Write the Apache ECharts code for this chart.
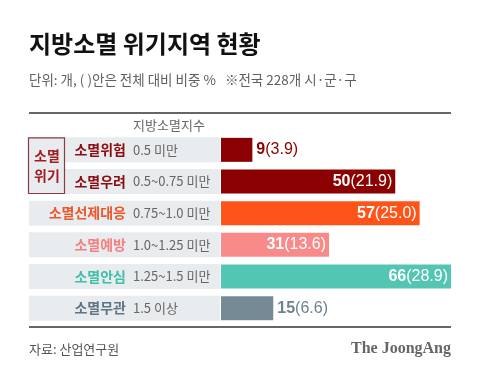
<!DOCTYPE html>
<html><head><meta charset="utf-8">
<script src="https://cdn.jsdelivr.net/npm/echarts@6/dist/echarts.min.js"></script>
<style>html,body{margin:0;padding:0;background:#fff}#c{width:480px;height:377px}</style>
</head><body><div id="c"></div>
<script>
const categories = ['소멸위험','소멸우려','소멸선제대응','소멸예방','소멸안심','소멸무관'];
const ranges = ['0.5 미만','0.5~0.75 미만','0.75~1.0 미만','1.0~1.25 미만','1.25~1.5 미만','1.5 이상'];
const counts = [9, 50, 57, 31, 66, 15];
const shares = ['3.9','21.9','25.0','13.6','28.9','6.6'];
const barColors = ['#8b0000','#8b0000','#ff5419','#f98a8a','#52c5b3','#768a96'];
const nameColors = ['#8c0d12','#8c0d12','#f0562a','#f47f7f','#3fbfa8','#5f7585'];
const labelInside = [false, true, true, true, true, false];
const outsideLabelColors = ['#8b0000','#8b0000','#ff5419','#f98a8a','#52c5b3','#6d8290'];

const KR = "'Noto Sans CJK KR', sans-serif";
const NUM = "'Liberation Sans', Arial, sans-serif";

const chart = echarts.init(document.getElementById('c'), null, {renderer:'canvas'});

const richNames = {};
nameColors.forEach((c,i)=>{ richNames['n'+i] = {color:c, fontFamily:KR, fontWeight:'bold', fontSize:14}; });

const option = {
  animation:false,
  grid:{left:221, top:134, width:230, height:190},
  xAxis:{type:'value', min:0, max:66, show:false},
  yAxis:[
    {type:'category', inverse:true, data:categories,
     axisLine:{show:false}, axisTick:{show:false},
     axisLabel:{margin:95, align:'right',
       formatter:(v, i)=>'{n'+i+'|'+v+'}', rich:richNames}},
    {type:'category', inverse:true, data:ranges, position:'left',
     axisLine:{show:false}, axisTick:{show:false},
     axisLabel:{margin:88, align:'left', color:'#666', fontFamily:KR, fontSize:13}}
  ],
  series:[{
    type:'bar', barWidth:24, yAxisIndex:0,
    data: counts.map((v,i)=>({
      value:v,
      itemStyle:{color:barColors[i]},
      label:{
        show:true,
        position: labelInside[i] ? 'insideRight' : 'right',
        distance: labelInside[i] ? 3 : 4,
        formatter: '{b|'+v+'}{n|('+shares[i]+')}',
        rich:{
          b:{fontFamily:NUM, fontWeight:'bold', fontSize:16, color: labelInside[i] ? '#fff' : outsideLabelColors[i]},
          n:{fontFamily:NUM, fontSize:16, color: labelInside[i] ? '#fff' : outsideLabelColors[i]}
        }
      }
    }))
  }]
};
chart.setOption(option);

const graphics = [];
categories.forEach((c,i)=>{
  const y = chart.convertToPixel({yAxisIndex:0}, c);
  graphics.push({type:'rect', z:-1, shape:{x:29, y:y-12.5, width:191, height:25}, style:{fill:'#e9ecef'}});
});
const y0 = chart.convertToPixel({yAxisIndex:0}, categories[0]);
const y1 = chart.convertToPixel({yAxisIndex:0}, categories[1]);
graphics.push({type:'rect', z:5, shape:{x:28.5, y:y0-12, width:36, height:(y1-y0)+24}, style:{fill:'#e9ecef', stroke:'#8e3a3c', lineWidth:1.2}});
graphics.push({type:'text', z:6, x:47, y:y0+6, style:{text:'소멸', font:"bold 14px "+KR, fill:'#a01c22', textAlign:'center', textVerticalAlign:'middle'}});
graphics.push({type:'text', z:6, x:47, y:y1-6, style:{text:'위기', font:"bold 14px "+KR, fill:'#a01c22', textAlign:'center', textVerticalAlign:'middle'}});
graphics.push({type:'line', shape:{x1:29, y1:113, x2:451, y2:113}, style:{stroke:'#333', lineWidth:1.5}});
graphics.push({type:'line', shape:{x1:29, y1:327, x2:451, y2:327}, style:{stroke:'#333', lineWidth:1.5}});
graphics.push({type:'text', x:29, y:44, style:{text:'지방소멸 위기지역 현황', font:"bold 24px "+KR, fill:'#111', textVerticalAlign:'middle'}});
graphics.push({type:'text', x:29, y:80, style:{text:'단위: 개, ( )안은 전체 대비 비중 %   ※전국 228개 시·군·구', font:"13.5px "+KR, fill:'#606060', textVerticalAlign:'middle'}});
graphics.push({type:'text', x:169, y:125, style:{text:'지방소멸지수', font:"13px "+KR, fill:'#666', textAlign:'center', textVerticalAlign:'middle'}});
graphics.push({type:'text', x:29, y:349, style:{text:'자료: 산업연구원', font:"13px "+KR, fill:'#555', textVerticalAlign:'middle'}});
graphics.push({type:'text', x:451, y:349, style:{text:'The JoongAng', font:"bold 16px 'Liberation Serif', 'DejaVu Serif', serif", fill:'#666', textAlign:'right', textVerticalAlign:'middle'}});
chart.setOption({graphic:graphics});
</script></body></html>
